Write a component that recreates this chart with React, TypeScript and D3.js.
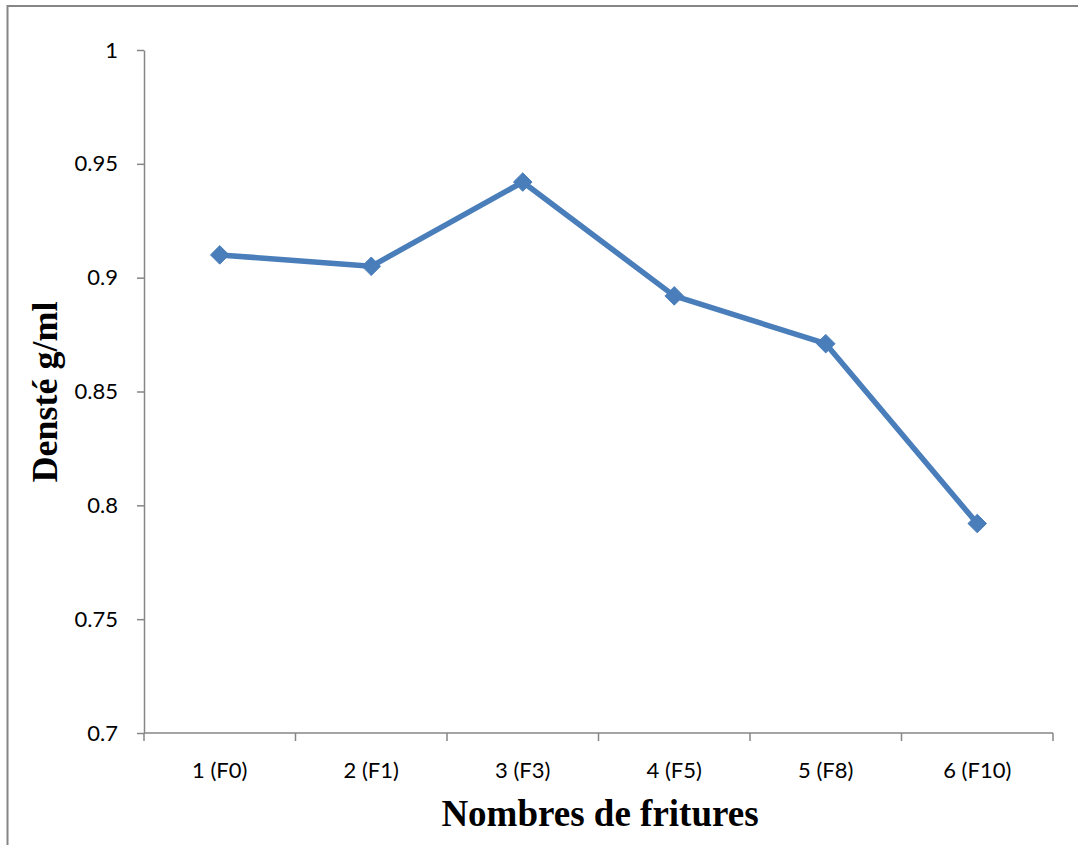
import React, { useEffect, useRef } from "react";
import * as d3 from "d3";

const categories = ["1 (F0)", "2 (F1)", "3 (F3)", "4 (F5)", "5 (F8)", "6 (F10)"];
const densite = [0.91, 0.905, 0.942, 0.892, 0.871, 0.792];
const yTicks = [0.7, 0.75, 0.8, 0.85, 0.9, 0.95, 1];

const W = 1078;
const H = 845;
const left = 144;
const right = 1053;
const top = 50;
const bottom = 733;

export default function App() {
  const ref = useRef<SVGSVGElement>(null);

  useEffect(() => {
    const svg = d3.select(ref.current);
    svg.selectAll("*").remove();

    const x = d3.scaleBand<string>().domain(categories).range([left, right]).padding(0);
    const y = d3.scaleLinear().domain([0.7, 1]).range([bottom, top]);
    const axisColor = "#868686";
    const tickFont = "Lato, 'Open Sans', sans-serif";

    // chart frame (top and left edges)
    svg.append("path")
      .attr("d", `M7.5,${H} V6 H${W}`)
      .attr("fill", "none")
      .attr("stroke", axisColor)
      .attr("stroke-width", 2);

    // y axis
    const yAxis = svg.append("g").attr("transform", `translate(${left},0)`)
      .call(d3.axisLeft(y).tickValues(yTicks).tickSize(7).tickSizeOuter(0).tickPadding(19)
        .tickFormat((d) => d3.format("")(+d)));
    yAxis.select(".domain").attr("stroke", axisColor).attr("stroke-width", 1.5);
    yAxis.selectAll(".tick line").attr("stroke", axisColor).attr("stroke-width", 1.5);
    yAxis.selectAll(".tick text")
      .attr("font-family", tickFont)
      .attr("font-size", 22)
      .attr("fill", "#000");

    // x axis with ticks at category boundaries
    const xg = svg.append("g");
    xg.append("line")
      .attr("x1", left).attr("x2", right).attr("y1", bottom).attr("y2", bottom)
      .attr("stroke", axisColor).attr("stroke-width", 1.5);
    const bounds = categories.map((c) => x(c)!).concat([right]);
    xg.selectAll("line.tk").data(bounds).join("line")
      .attr("class", "tk")
      .attr("x1", (d) => d).attr("x2", (d) => d)
      .attr("y1", bottom).attr("y2", bottom + 8)
      .attr("stroke", axisColor).attr("stroke-width", 1.5);
    xg.selectAll("text").data(categories).join("text")
      .attr("x", (d) => x(d)! + x.bandwidth() / 2)
      .attr("y", 778)
      .attr("text-anchor", "middle")
      .attr("font-family", tickFont)
      .attr("font-size", 22)
      .attr("fill", "#000")
      .text((d) => d);

    // series line
    const pts = categories.map((c, i) => [x(c)! + x.bandwidth() / 2, y(densite[i])] as [number, number]);
    svg.append("path")
      .attr("d", d3.line()(pts))
      .attr("fill", "none")
      .attr("stroke", "#4a7ebb")
      .attr("stroke-width", 5.5)
      .attr("stroke-linejoin", "round");

    // diamond markers
    const diamond = d3.symbol().type(d3.symbolDiamond2).size(220);
    svg.selectAll("path.mk").data(pts).join("path")
      .attr("class", "mk")
      .attr("d", diamond()!)
      .attr("transform", (d) => `translate(${d[0]},${d[1]})`)
      .attr("fill", "#4a7ebb")
      .attr("stroke", "#4a7ebb")
      .attr("stroke-width", 1);

    // axis titles
    svg.append("text")
      .attr("x", 600)
      .attr("y", 826)
      .attr("text-anchor", "middle")
      .attr("font-family", "'Liberation Serif', 'Times New Roman', serif")
      .attr("font-weight", "bold")
      .attr("font-size", 37)
      .attr("fill", "#000")
      .text("Nombres de fritures");

    svg.append("text")
      .attr("transform", `translate(57,${392}) rotate(-90)`)
      .attr("text-anchor", "middle")
      .attr("font-family", "'Liberation Serif', 'Times New Roman', serif")
      .attr("font-weight", "bold")
      .attr("font-size", 36)
      .attr("fill", "#000")
      .text("Densté g/ml");
  }, []);

  return (
    <svg ref={ref} width={W} height={H}
      style={{ position: "absolute", left: 0, top: 0, background: "#fff" }} />
  );
}
